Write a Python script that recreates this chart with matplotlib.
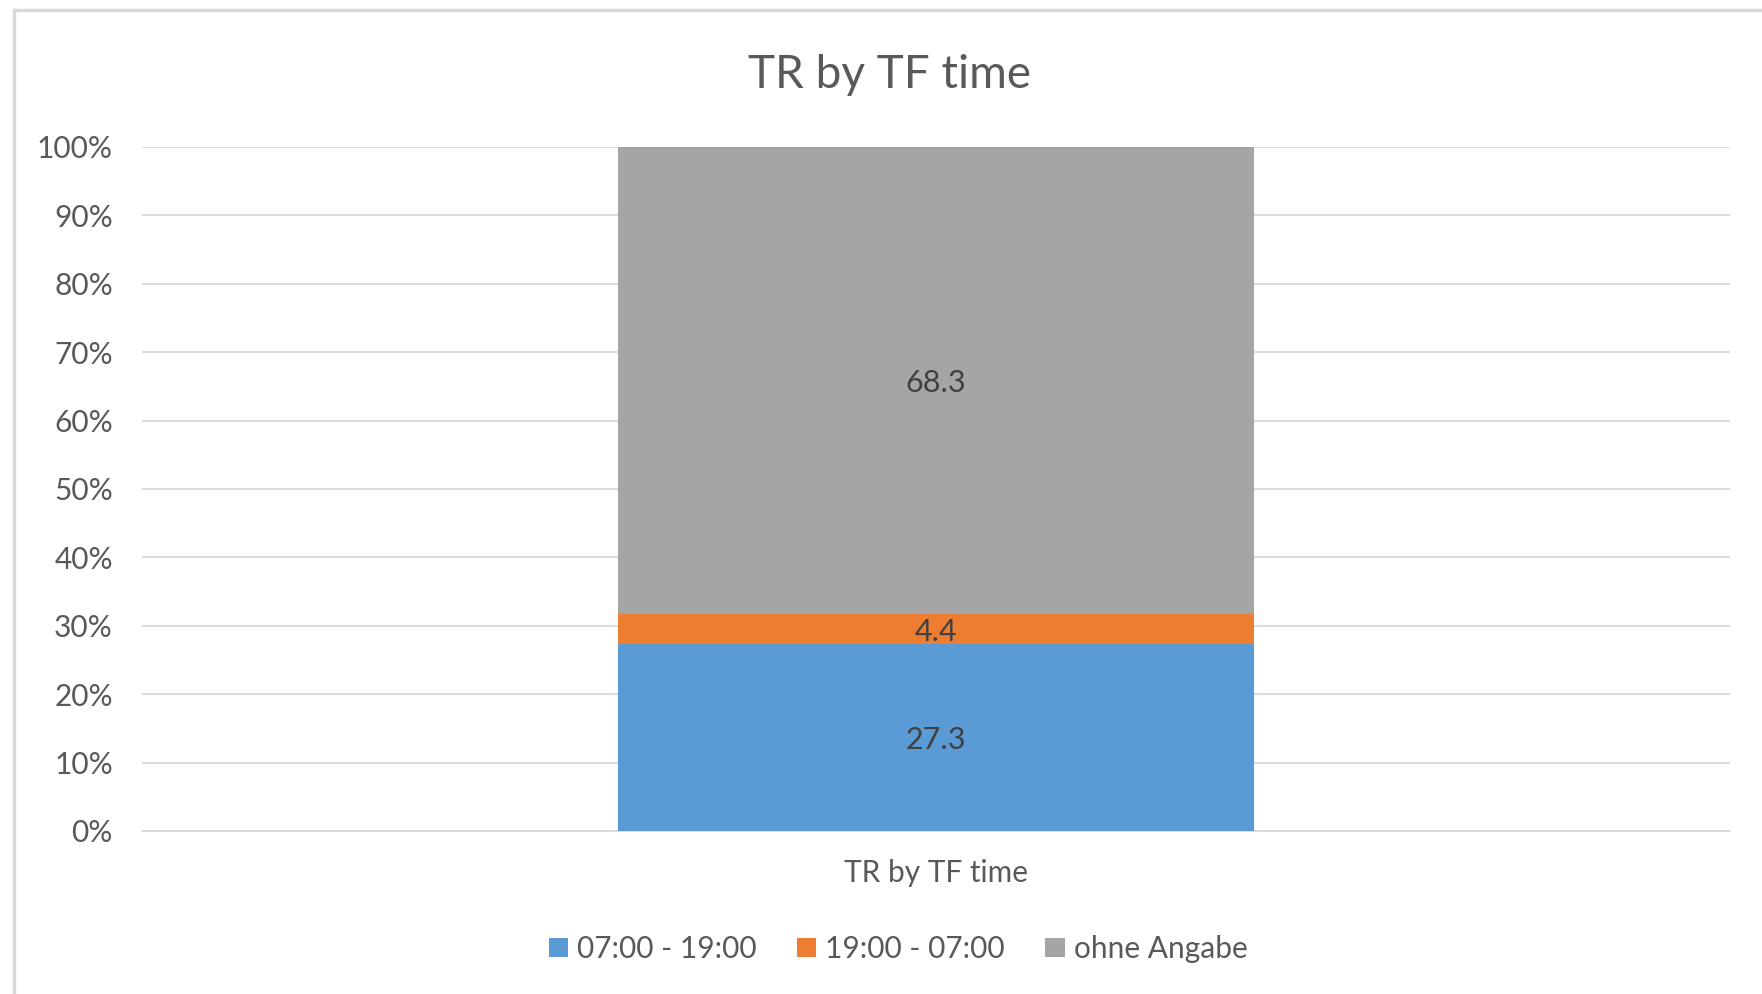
import matplotlib
matplotlib.use("Agg")
import matplotlib.pyplot as plt
from matplotlib.lines import Line2D
from matplotlib.ticker import FuncFormatter

plt.rcParams['font.family'] = ['Lato', 'DejaVu Sans']

categories = ["TR by TF time"]
series_names = ["07:00 - 19:00", "19:00 - 07:00", "ohne Angabe"]
series_values = [[27.3], [4.4], [68.3]]
colors = ["#5B9BD5", "#ED7D31", "#A5A5A5"]
yticks = [0, 10, 20, 30, 40, 50, 60, 70, 80, 90, 100]

W, H = 1762, 994
fig = plt.figure(figsize=(W / 100, H / 100), dpi=100)
ax = fig.add_axes([142 / W, 1 - 831 / H, (1730 - 142) / W, (831 - 147) / H])

text_color = "#595959"
grid_color = "#D9D9D9"

x = list(range(len(categories)))
bottom = [0.0] * len(categories)
for name, vals, col in zip(series_names, series_values, colors):
    ax.bar(x, vals, width=0.4, bottom=bottom, color=col, label=name, zorder=3)
    for xi, v, b in zip(x, vals, bottom):
        ax.text(xi, b + v / 2 - 0.4, f"{v:.1f}", ha="center", va="center",
                fontsize=22, color="#404040", zorder=4)
    bottom = [b + v for b, v in zip(bottom, vals)]

ax.set_xlim(-0.5, 0.5)
ax.set_ylim(0, 100)
ax.set_yticks(yticks)
ax.yaxis.set_major_formatter(FuncFormatter(lambda v, p: f"{int(v)}%"))
ax.set_xticks(x)
ax.set_xticklabels(categories)
ax.tick_params(axis="y", length=0, pad=21, labelsize=21.5, labelcolor=text_color)
ax.tick_params(axis="x", length=0, pad=20, labelsize=21.5, labelcolor=text_color)
ax.grid(axis="y", color=grid_color, linewidth=1.3, zorder=0)
for s in ["top", "right", "left"]:
    ax.spines[s].set_visible(False)
ax.spines["bottom"].set_color(grid_color)
ax.spines["bottom"].set_linewidth(1.3)

fig.text(890 / W, 1 - 75 / H, "TR by TF time", ha="center", va="center",
         fontsize=33, color=text_color)

handles, labels = ax.get_legend_handles_labels()
leg = fig.legend(handles, labels, loc="center", bbox_to_anchor=(898 / W, 1 - 949 / H),
                 ncol=3, frameon=False, fontsize=21.5, handlelength=0.65, handleheight=0.65,
                 handletextpad=0.3, columnspacing=1.35)
for t in leg.get_texts():
    t.set_color(text_color)

# chart area border (partially cropped)
fig.add_artist(Line2D([14 / W, 14 / W], [0, 1 - 10 / H], transform=fig.transFigure,
                      color="#D9D9D9", linewidth=2.5))
fig.add_artist(Line2D([14 / W, 1], [1 - 10 / H, 1 - 10 / H], transform=fig.transFigure,
                      color="#D9D9D9", linewidth=2.5))

fig.savefig("out.png", dpi=100, facecolor="white")
